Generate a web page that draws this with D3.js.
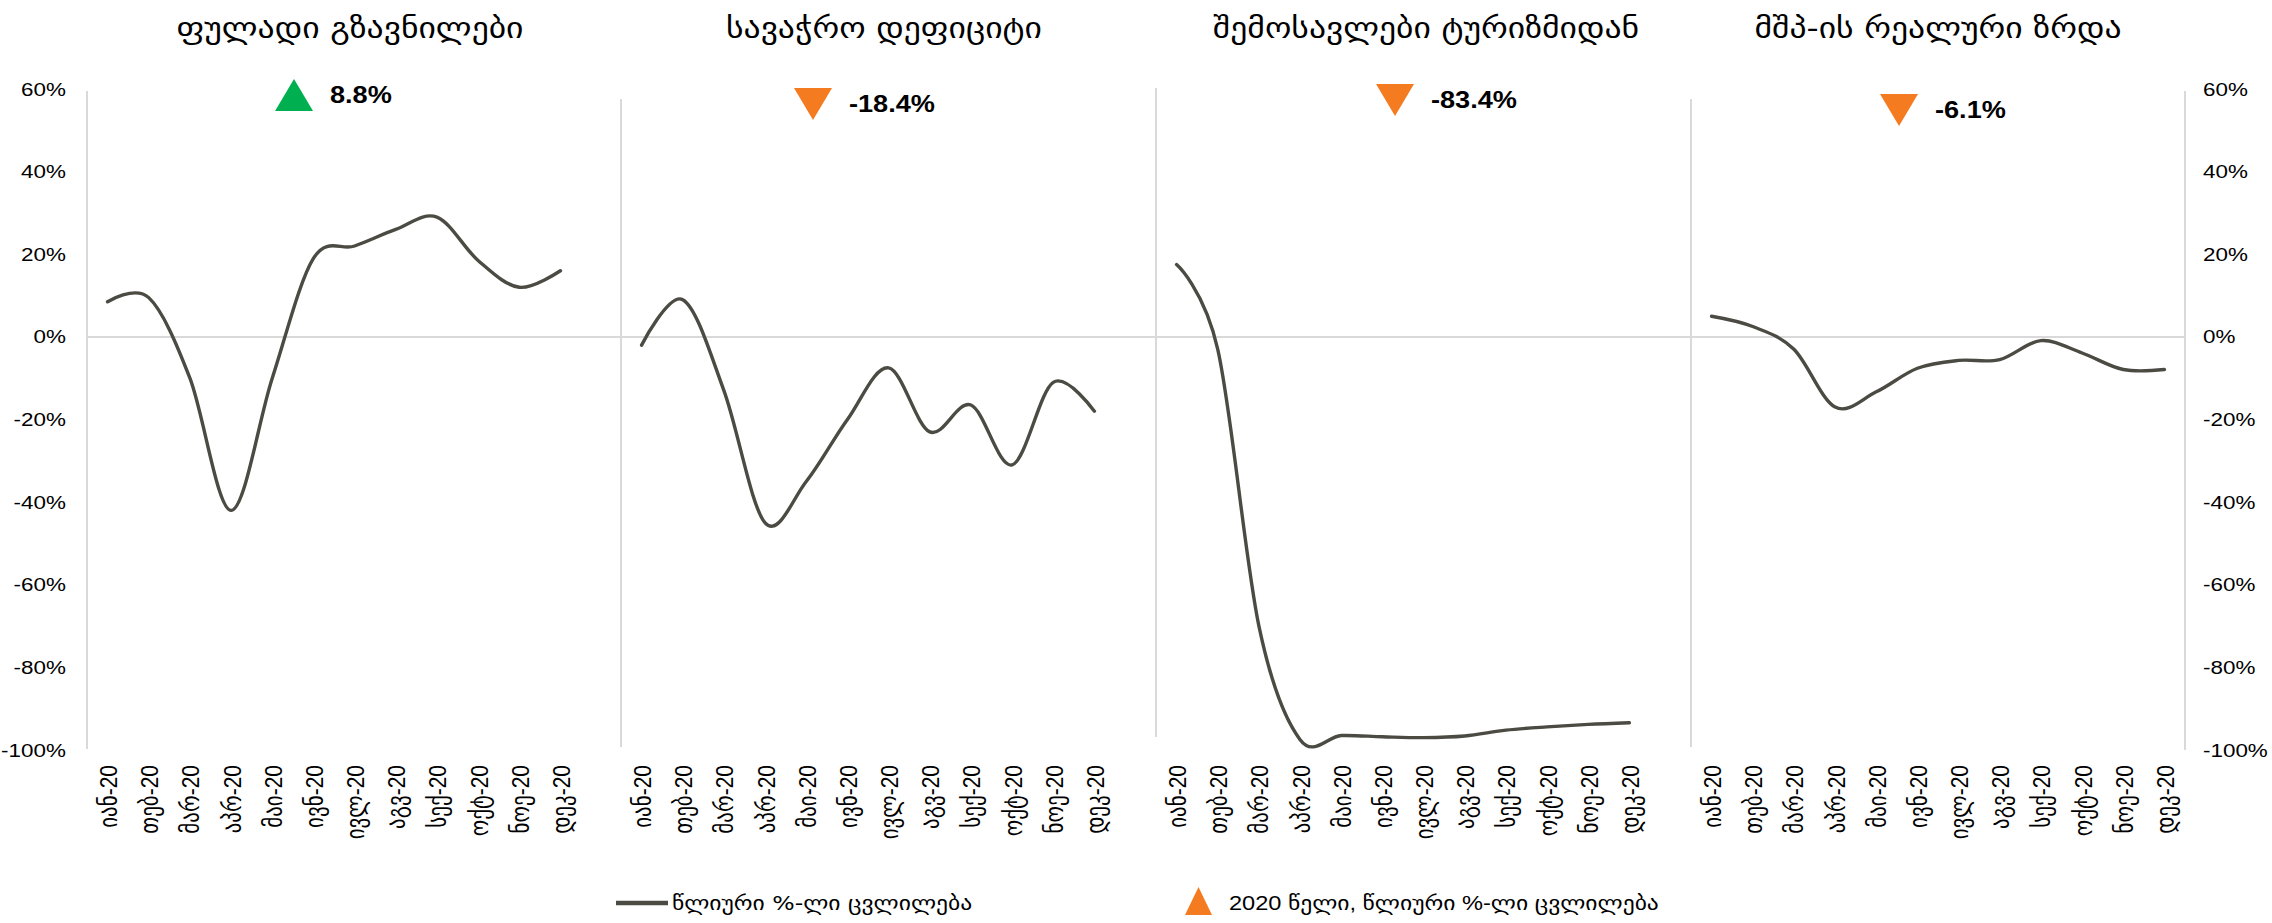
<!DOCTYPE html>
<html>
<head>
<meta charset="utf-8">
<script src="https://cdn.jsdelivr.net/npm/d3@7"></script>
<style>
  html, body { margin: 0; padding: 0; background: #fff; }
  svg { display: block; }
  text { font-family: "Liberation Sans", Arial, "DejaVu Sans", sans-serif; fill: #000; }
</style>
</head>
<body>
<svg id="chart" width="2272" height="923"></svg>
<script>
// Month labels (Georgian abbreviations, 2020)
const months = ['იან-20','თებ-20','მარ-20','აპრ-20','მაი-20','ივნ-20','ივლ-20','აგვ-20','სექ-20','ოქტ-20','ნოე-20','დეკ-20'];

// Panel titles
const titles = ['ფულადი გზავნილები', 'სავაჭრო დეფიციტი', 'შემოსავლები ტურიზმიდან', 'მშპ-ის რეალური ზრდა'];

// Monthly year-on-year % change
const remittances    = [8.5, 9.5, -10, -42, -10, 19, 22, 26, 29, 18.5, 12, 16];
const tradeDeficit   = [-2, 9, -13, -45, -35, -20, -7.5, -23, -16.5, -31, -11, -18];
const tourismRevenue = [17.5, -3, -70, -97.5, -96.5, -96.8, -97, -96.6, -95.2, -94.4, -93.8, -93.4];
const realGdpGrowth  = [5, 2.5, -3, -17, -13.3, -7.6, -5.7, -5.5, -0.9, -3.9, -7.9, -7.9];

// Full-year 2020 % change per panel
const annual2020 = [8.8, -18.4, -83.4, -6.1];

// Y axis ticks
const yTicks = [60, 40, 20, 0, -20, -40, -60, -80, -100];

// Legend labels
const legendLabels = ['წლიური %-ლი ცვლილება', '2020 წელი, წლიური %-ლი ცვლილება'];

const series = [remittances, tradeDeficit, tourismRevenue, realGdpGrowth];

// ---- layout ----
const SX = 1.18;                 // horizontal text stretch
const panelLeft = [87, 621, 1156, 1691];
const panelWidth = 494;
const frameX   = [87, 621, 1156, 1691, 2185];
const frameTop = [91, 99, 88, 99, 91];
const frameBot = [749, 747, 737, 747, 750];
const titleCx  = [350, 884, 1426, 1938];
const markCx   = [294, 813, 1395, 1899];
const markTop  = [79, 88, 84, 94];
const lineColor = '#4b4b43';
const upColor = '#00b050';
const downColor = '#f47b20';
const gridColor = '#d9d9d9';

const svg = d3.select('#chart');

const y = d3.scaleLinear().domain([-100, 60]).range([750, 89]);

// frame lines
svg.append('g').selectAll('line').data(frameX).join('line')
  .attr('x1', d => d).attr('x2', d => d)
  .attr('y1', (d, i) => frameTop[i]).attr('y2', (d, i) => frameBot[i])
  .attr('stroke', gridColor).attr('stroke-width', 2);

// zero line
svg.append('line')
  .attr('x1', frameX[0]).attr('x2', frameX[4])
  .attr('y1', y(0)).attr('y2', y(0))
  .attr('stroke', gridColor).attr('stroke-width', 2);

// y axes
function styleYAxis(g) {
  g.select('.domain').remove();
  g.selectAll('.tick line').remove();
  g.selectAll('.tick text')
    .attr('font-size', 19)
    .attr('transform', `scale(${SX},1)`)
    .style('font-family', '"Liberation Sans", Arial, sans-serif');
}
svg.append('g')
  .attr('transform', `translate(67,0)`)
  .call(d3.axisLeft(y).tickValues(yTicks).tickFormat(d => d + '%').tickSize(0).tickPadding(1))
  .call(styleYAxis);
svg.append('g')
  .attr('transform', `translate(2203,0)`)
  .call(d3.axisRight(y).tickValues(yTicks).tickFormat(d => d + '%').tickSize(0).tickPadding(0))
  .call(styleYAxis);

const curve = d3.curveCardinal.tension(0);

series.forEach((vals, p) => {
  const x = d3.scalePoint().domain(months)
    .range([panelLeft[p], panelLeft[p] + panelWidth]).padding(0.5);

  // x axis labels
  const ax = svg.append('g')
    .attr('transform', `translate(0,${y(-100)})`)
    .call(d3.axisBottom(x).tickSize(0));
  ax.select('.domain').remove();
  ax.selectAll('.tick text')
    .attr('font-size', 21)
    .attr('text-anchor', 'end')
    .attr('x', -15).attr('y', 0).attr('dy', '0.36em')
    .attr('transform', `scale(${SX},1) rotate(-90)`)
    .style('font-family', '"Liberation Sans", Arial, "DejaVu Sans", sans-serif');

  // data line
  const line = d3.line().x((d, i) => x(months[i])).y(d => y(d)).curve(curve);
  svg.append('path').datum(vals)
    .attr('d', line)
    .attr('fill', 'none')
    .attr('stroke', lineColor)
    .attr('stroke-width', 3.4)
    .attr('stroke-linejoin', 'round')
    .attr('stroke-linecap', 'round');

  // title
  svg.append('g').attr('transform', `translate(${titleCx[p]},38) scale(${SX},1)`)
    .append('text').attr('text-anchor', 'middle').attr('font-size', 28.5)
    .style('font-family', '"DejaVu Sans", sans-serif')
    .text(titles[p]);

  // annual change marker
  const v = annual2020[p];
  const cx = markCx[p], t = markTop[p], w = 38, h = 32;
  const tri = v >= 0
    ? [[cx - w / 2, t + h], [cx + w / 2, t + h], [cx, t]]
    : [[cx - w / 2, t], [cx + w / 2, t], [cx, t + h]];
  svg.append('path')
    .attr('d', d3.line()(tri) + 'Z')
    .attr('fill', v >= 0 ? upColor : downColor);
  svg.append('g').attr('transform', `translate(${cx + w / 2 + 17},${t + h / 2 + 8}) scale(${SX},1)`)
    .append('text').attr('font-size', 23).attr('font-weight', 'bold')
    .text(v.toFixed(1) + '%');
});

// legend
const lg = svg.append('g');
lg.append('line').attr('x1', 616).attr('x2', 668).attr('y1', 903).attr('y2', 903)
  .attr('stroke', lineColor).attr('stroke-width', 4.5);
lg.append('g').attr('transform', `translate(672,910) scale(${SX},1)`)
  .append('text').attr('font-size', 20).style('font-family', '"DejaVu Sans", sans-serif')
  .text(legendLabels[0]);
lg.append('path')
  .attr('d', d3.line()([[1185, 915], [1212, 915], [1198.5, 887]]) + 'Z')
  .attr('fill', downColor);
lg.append('g').attr('transform', `translate(1229,910) scale(${SX},1)`)
  .append('text').attr('font-size', 20).style('font-family', '"Liberation Sans", Arial, "DejaVu Sans", sans-serif')
  .text(legendLabels[1]);
</script>
</body>
</html>
